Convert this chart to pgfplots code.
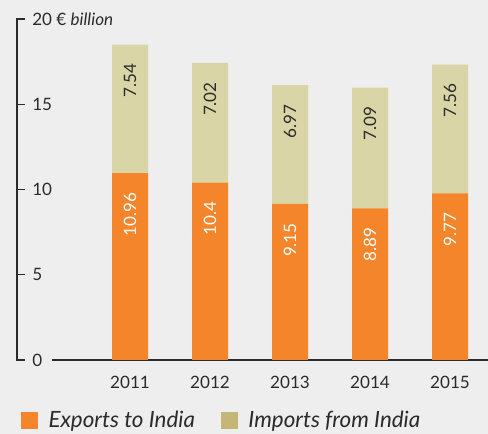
\documentclass[border=0pt]{standalone}
\usepackage{pgfplots}
\pgfplotsset{compat=1.18}
\usepackage{fontspec}
\setmainfont{Lato}
\definecolor{bgc}{HTML}{EEEEEE}
\definecolor{expc}{HTML}{F5852B}
\definecolor{impc}{HTML}{D9D5A7}
\definecolor{implegc}{HTML}{C5B577}
\definecolor{txtc}{HTML}{2B2B2B}
\pgfplotsset{
  geom/.style={
    at={(39pt,55.5pt)}, anchor=south west,
    scale only axis, width=327pt, height=255.75pt,
    xmin=-0.975, xmax=4.475, ymin=0, ymax=20,
  }
}
\begin{document}
\begin{tikzpicture}
\fill[bgc] (0,0) rectangle (366pt,325.5pt);
\begin{axis}[
  geom,
  ybar stacked, bar width=27pt,
  axis x line*=bottom, axis y line*=left,
  y axis line style={draw=none},
  x axis line style={draw=txtc, line width=0.9pt, -},
  major tick length=0pt,
  xtick={0,1,2,3,4}, xticklabels={2011,2012,2013,2014,2015},
  ytick={0,5,10,15,20}, yticklabels={0,5,10,15,{20 € \textit{billion}}},
  /pgf/number format/assume math mode=true,
  tick label style={font=\fontsize{12.8}{15}\selectfont, text=txtc, inner sep=0pt},
  xticklabel style={anchor=north, yshift=-12pt},
  yticklabel style={anchor=west, xshift=-15pt},
  legend columns=2,
  legend style={draw=none, fill=none, inner sep=0pt, outer sep=0pt,
    at={(axis description cs:-0.0711,-0.176)}, anchor=west,
    font=\fontsize{16.8}{19}\selectfont\itshape, text=txtc,
    nodes={inner sep=0pt},
    /tikz/every odd column/.append style={column sep=8.25pt},
    /tikz/every even column/.append style={column sep=19.5pt}},
]
\addplot[fill=expc, draw=none, forget plot]
  coordinates {(0,10.96) (1,10.4) (2,9.15) (3,8.89) (4,9.77)};
\addplot[fill=impc, draw=none, forget plot]
  coordinates {(0,7.54) (1,7.02) (2,6.97) (3,7.09) (4,7.56)};
\addlegendimage{legend image code/.code={\fill[expc] (0pt,-6pt) rectangle (12pt,6pt);}}
\addlegendentry{Exports to India}
\addlegendimage{legend image code/.code={\fill[implegc] (0pt,-6pt) rectangle (12pt,6pt);}}
\addlegendentry{Imports from India}
\end{axis}
% value labels: anchored at the top of each segment
\begin{axis}[
  geom, hide axis,
  nodes near coords, point meta=explicit symbolic,
  every node near coord/.append style={font=\fontsize{12.8}{15}\selectfont, inner sep=0pt, anchor=east, rotate=90, xshift=-14.25pt},
]
\addplot[draw=none, mark=none, every node near coord/.append style={text=white}]
  coordinates {(0,10.96)[10.96] (1,10.4)[10.4] (2,9.15)[9.15] (3,8.89)[8.89] (4,9.77)[9.77]};
\addplot[draw=none, mark=none, every node near coord/.append style={text=txtc}]
  coordinates {(0,18.50)[7.54] (1,17.42)[7.02] (2,16.12)[6.97] (3,15.98)[7.09] (4,17.33)[7.56]};
\end{axis}
\draw[txtc, line width=0.9pt] (18.75pt,311.25pt) -- (12.75pt,311.25pt) -- (12.75pt,55.5pt) -- (18.75pt,55.5pt);
\foreach \yy in {119.4375,183.375,247.3125} {
  \draw[txtc, line width=0.9pt] (12.75pt,\yy pt) -- (18.75pt,\yy pt);
}
\pgfresetboundingbox
\useasboundingbox (0,0) rectangle (366pt,325.5pt);
\end{tikzpicture}
\end{document}
